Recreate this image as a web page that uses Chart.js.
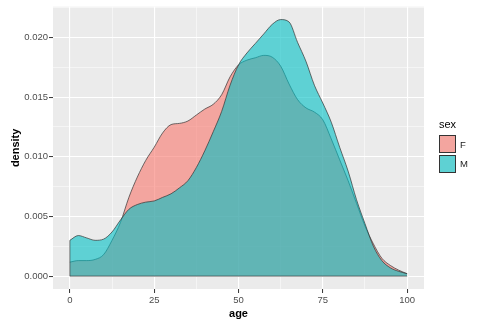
<!DOCTYPE html>
<html>
<head>
<meta charset="utf-8">
<script src="https://cdn.jsdelivr.net/npm/chart.js@4/dist/chart.umd.min.js"></script>
<style>
    body { margin: 0; background: #fff; }
    #wrap { position: relative; width: 490px; height: 327px; }
    .lg { position: absolute; font-family: "Liberation Sans", Arial, sans-serif; }
    .key { position: absolute; left: 439px; width: 17px; height: 18px; border: 1px solid #333; box-sizing: border-box; }
</style>
</head>
<body>
<div id="wrap">
    <canvas id="myChart" width="490" height="327"></canvas>
    <div class="lg" style="left:439px; top:118px; font-size:11px; color:#000;">sex</div>
    <div class="key" style="top:135px; background:#F3A59F;"></div>
    <div class="key" style="top:155px; background:#5ED1D3;"></div>
    <div class="lg" style="left:460px; top:139px; font-size:9.5px; color:#222;">F</div>
    <div class="lg" style="left:460px; top:158px; font-size:9.5px; color:#222;">M</div>
</div>
<script>
const ages = [0, 2.5, 5, 7.5, 10, 12.5, 15, 17.5, 20, 22.5, 25, 27.5, 30, 32.5, 35, 37.5, 40,
    42.5, 45, 47.5, 50, 52.5, 55, 57.5, 60, 62.5, 65, 67.5, 70, 72.5, 75, 77.5, 80, 82.5, 85,
    87.5, 90, 92.5, 95, 97.5, 100];
const densityF = [0.00117, 0.0013, 0.0013, 0.0014, 0.0018, 0.0030, 0.0045, 0.0066, 0.0083, 0.0097,
    0.0108, 0.0120, 0.0127, 0.0128, 0.0130, 0.0135, 0.0140, 0.0144, 0.0152, 0.0167, 0.0177,
    0.0181, 0.0183, 0.0185, 0.01835, 0.0176, 0.0161, 0.0148, 0.0141, 0.01375, 0.0131, 0.0115,
    0.00975, 0.0080, 0.0061, 0.0042, 0.0027, 0.0015, 0.0009, 0.0005, 0.0002];
const densityM = [0.0030, 0.0034, 0.0032, 0.0030, 0.0031, 0.0037, 0.0047, 0.0056, 0.0060, 0.0062,
    0.0063, 0.0066, 0.0069, 0.0074, 0.0080, 0.0091, 0.0105, 0.0121, 0.0138, 0.0160, 0.0177,
    0.0187, 0.0195, 0.0203, 0.0211, 0.0215, 0.0213, 0.0196, 0.0180, 0.0160, 0.0145, 0.0129,
    0.0108, 0.0088, 0.0064, 0.0044, 0.0025, 0.0013, 0.0007, 0.0004, 0.0002];
const xMajor = [0, 25, 50, 75, 100];
const xMinor = [12.5, 37.5, 62.5, 87.5];
const yMajor = [0, 0.005, 0.01, 0.015, 0.02];
const yMinor = [0.0025, 0.0075, 0.0125, 0.0175, 0.0225];

function points(values) {
    return ages.map((a, i) => ({ x: a, y: values[i] }));
}

const outline = '#333';

function edge(data) {
    return {
        data: data,
        borderColor: outline,
        borderWidth: 0.7,
        pointRadius: 0,
        fill: false,
        order: 0,
    };
}

const panelBg = {
    id: 'panelBg',
    beforeDraw(chart) {
        const { ctx, chartArea: a } = chart;
        ctx.save();
        ctx.fillStyle = '#EBEBEB';
        ctx.fillRect(a.left, a.top, a.right - a.left, a.bottom - a.top);
        ctx.restore();
    },
};

function isMajor(list, v) {
    return list.some(m => Math.abs(m - v) < 1e-9);
}

const tickFont = { family: '"Liberation Sans", Arial, sans-serif', size: 9.5 };
const titleFont = { family: '"Liberation Sans", Arial, sans-serif', size: 11, weight: 'bold' };

const ctx = document.getElementById('myChart').getContext('2d');
new Chart(ctx, {
    type: 'line',
    data: {
        datasets: [
            {
                label: 'M',
                data: points(densityM),
                borderColor: outline,
                borderWidth: 0.7,
                backgroundColor: 'rgba(0,191,196,0.6)',
                fill: 'origin',
                pointRadius: 0,
                cubicInterpolationMode: 'monotone',
                order: 1,
            },
            {
                label: 'F',
                data: points(densityF),
                borderColor: outline,
                borderWidth: 0.7,
                backgroundColor: 'rgba(248,118,109,0.6)',
                fill: 'origin',
                pointRadius: 0,
                cubicInterpolationMode: 'monotone',
                order: 2,
            },
            edge([{ x: ages[0], y: 0 }, { x: ages[ages.length - 1], y: 0 }]),
            edge([{ x: ages[0], y: 0 }, { x: ages[0], y: densityM[0] }]),
        ],
    },
    options: {
        responsive: false,
        animation: false,
        layout: { padding: { top: 6, right: 66, left: 0, bottom: 0 } },
        plugins: {
            legend: { display: false },
            tooltip: { enabled: false },
        },
        scales: {
            x: {
                type: 'linear',
                min: -5,
                max: 105,
                afterBuildTicks: scale => {
                    scale.ticks = xMajor.concat(xMinor).sort((a, b) => a - b).map(v => ({ value: v }));
                },
                afterFit: scale => { scale.height = 38; },
                border: { display: false },
                grid: {
                    color: '#fff',
                    lineWidth: c => isMajor(xMajor, c.tick.value) ? 1.1 : 0.5,
                    tickLength: 4,
                    tickColor: c => isMajor(xMajor, c.tick.value) ? '#333' : 'rgba(0,0,0,0)',
                    tickWidth: 1,
                },
                ticks: {
                    autoSkip: false,
                    maxRotation: 0,
                    padding: 2,
                    color: '#4D4D4D',
                    font: tickFont,
                    callback: v => isMajor(xMajor, v) ? String(v) : '',
                },
                title: {
                    display: true,
                    text: 'age',
                    color: '#000',
                    font: titleFont,
                    padding: { top: 0, bottom: 6.6 },
                },
            },
            y: {
                type: 'linear',
                min: -0.00108,
                max: 0.02258,
                afterBuildTicks: scale => {
                    scale.ticks = yMajor.concat(yMinor).sort((a, b) => a - b).map(v => ({ value: v }));
                },
                afterFit: scale => { scale.width = 53; },
                border: { display: false },
                grid: {
                    color: '#fff',
                    lineWidth: c => isMajor(yMajor, c.tick.value) ? 1.1 : 0.5,
                    tickLength: 4,
                    tickColor: c => isMajor(yMajor, c.tick.value) ? '#333' : 'rgba(0,0,0,0)',
                    tickWidth: 1,
                },
                ticks: {
                    autoSkip: false,
                    padding: 1,
                    color: '#4D4D4D',
                    font: tickFont,
                    callback: v => isMajor(yMajor, v) ? v.toFixed(3) : '',
                },
                title: {
                    display: true,
                    text: 'density',
                    color: '#000',
                    font: titleFont,
                    padding: { top: 9, bottom: 0 },
                },
            },
        },
    },
    plugins: [panelBg],
});
</script>
</body>
</html>
